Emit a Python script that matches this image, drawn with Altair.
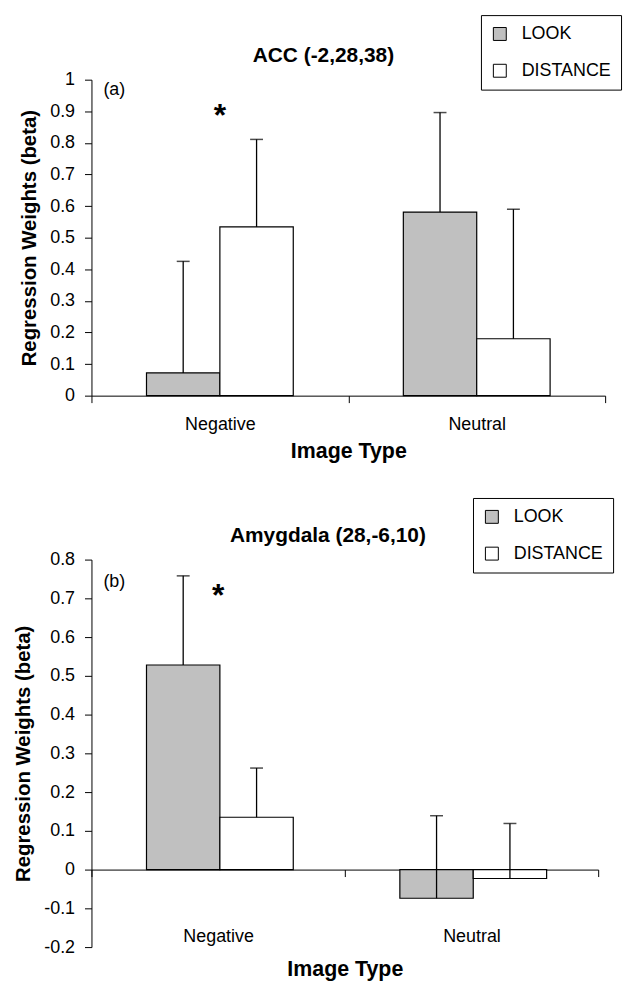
import altair as alt
import pandas as pd

categories = ["Negative", "Neutral"]
series = ["LOOK", "DISTANCE"]
fills = ["#c0c0c0", "#ffffff"]

panel_titles = ["ACC (-2,28,38)", "Amygdala (28,-6,10)"]
panel_tags = ["(a)", "(b)"]

# panel (a) ACC
acc_look = [0.072, 0.581]
acc_look_err = [0.353, 0.315]
acc_dist = [0.534, 0.180]
acc_dist_err = [0.277, 0.410]

# panel (b) Amygdala
amy_look = [0.528, -0.074]
amy_look_err = [0.230, 0.213]
amy_dist = [0.135, -0.023]
amy_dist_err = [0.127, 0.142]

acc_ticks = [0, 0.1, 0.2, 0.3, 0.4, 0.5, 0.6, 0.7, 0.8, 0.9, 1.0]
amy_ticks = [-0.2, -0.1, 0, 0.1, 0.2, 0.3, 0.4, 0.5, 0.6, 0.7, 0.8]

FONT = "Liberation Sans"
LABEL_EXPR = ("datum.value < 0 ? '-' + format(-datum.value, '.1~f') "
              ": format(datum.value, '.1~f')")


def make_df(look, look_err, dist, dist_err):
    rows = []
    for i, c in enumerate(categories):
        rows.append(dict(cat=c, series="LOOK", value=look[i], top=look[i] + look_err[i]))
        rows.append(dict(cat=c, series="DISTANCE", value=dist[i], top=dist[i] + dist_err[i]))
    return pd.DataFrame(rows)


def panel(df, title, tag, title_dx, ydomain, yticks, width, height,
          legend_x, legend_y, axis_offset, label_pad, xtitle_y,
          tag_y, star_y):
    xscale = alt.Scale(domain=categories, paddingInner=0, paddingOuter=0)
    xaxis = alt.Axis(title="Image Type", tickBand="extent", labelAngle=0,
                     offset=axis_offset, labelPadding=label_pad, tickSize=7,
                     titleY=xtitle_y, titleBaseline="top", titleFontSize=21.5,
                     labelOverlap=False)
    yaxis = alt.Axis(title="Regression Weights (beta)", values=yticks,
                     tickCount=len(yticks) + 2,
                     labelExpr=LABEL_EXPR, tickSize=7, labelPadding=10,
                     titlePadding=10, titleFontSize=20.5, labelOverlap=False)
    xoff = alt.XOffset("series:N", scale=alt.Scale(domain=series, paddingInner=0, paddingOuter=0.75))
    yscale = alt.Scale(domain=ydomain, nice=False, zero=False)

    bars = alt.Chart(df).mark_bar(stroke="black", strokeWidth=1.2).encode(
        x=alt.X("cat:N", scale=xscale, axis=xaxis),
        xOffset=xoff,
        y=alt.Y("value:Q", scale=yscale, axis=yaxis),
        color=alt.Color("series:N", scale=alt.Scale(domain=series, range=fills),
                        legend=alt.Legend(title=None, orient="none",
                                          legendX=legend_x, legendY=legend_y)),
    )
    rules = alt.Chart(df).mark_rule(color="black", strokeWidth=1.3).encode(
        x=alt.X("cat:N", scale=xscale, axis=xaxis), xOffset=xoff,
        y=alt.Y("value:Q", scale=yscale, axis=yaxis), y2="top:Q")
    caps = alt.Chart(df).mark_tick(color="black", thickness=1.5, size=13).encode(
        x=alt.X("cat:N", scale=xscale, axis=xaxis), xOffset=xoff,
        y=alt.Y("top:Q", scale=yscale, axis=yaxis))
    tag_txt = alt.Chart(pd.DataFrame({"t": [tag]})).mark_text(
        align="left", baseline="middle", fontSize=18, font=FONT, color="black").encode(
        text="t:N", x=alt.value(12), y=alt.datum(tag_y))
    star = alt.Chart(pd.DataFrame({"t": ["*"]})).mark_text(
        align="center", baseline="alphabetic", fontSize=32, fontWeight="bold",
        font=FONT, color="black").encode(
        text="t:N", x=alt.datum("Negative"), y=alt.datum(star_y))
    ttl = alt.Chart(pd.DataFrame({"t": [title]})).mark_text(
        align="center", baseline="alphabetic", fontSize=21, fontWeight="bold",
        font=FONT, color="black").encode(
        text="t:N", x=alt.value(width / 2 + title_dx), y=alt.value(-18))
    return alt.layer(bars, rules, caps, tag_txt, star, ttl).properties(
        width=width, height=height)


top = panel(make_df(acc_look, acc_look_err, acc_dist, acc_dist_err),
            panel_titles[0], panel_tags[0], -25, [0, 1], acc_ticks, 517, 318,
            392, -65, 0, 13, 45, 0.966, 0.852)
bottom = panel(make_df(amy_look, amy_look_err, amy_dist, amy_dist_err),
               panel_titles[1], panel_tags[1], -17, [-0.2, 0.8], amy_ticks, 510, 390,
               384, -62, -78, 51, 90, 0.742, 0.680)

chart = alt.vconcat(top, bottom, spacing=35).resolve_scale(
    color="independent"
).properties(
    padding={"left": 5, "top": 3, "right": 5, "bottom": 0}
).configure(font=FONT).configure_view(stroke=None).configure_axis(
    grid=False, domainColor="black", tickColor="black", labelColor="black",
    titleColor="black", labelFont=FONT, titleFont=FONT, labelFontSize=18,
    titleFontWeight="bold", domainWidth=1, tickWidth=1,
).configure_legend(
    labelFont=FONT, labelFontSize=18, labelColor="black", symbolType="square",
    symbolSize=169, symbolStrokeColor="black", symbolStrokeWidth=1,
    padding=10, rowPadding=19, labelOffset=13, strokeColor="black",
)

chart.save("out.html", embed_options={"renderer": "svg", "actions": False})
